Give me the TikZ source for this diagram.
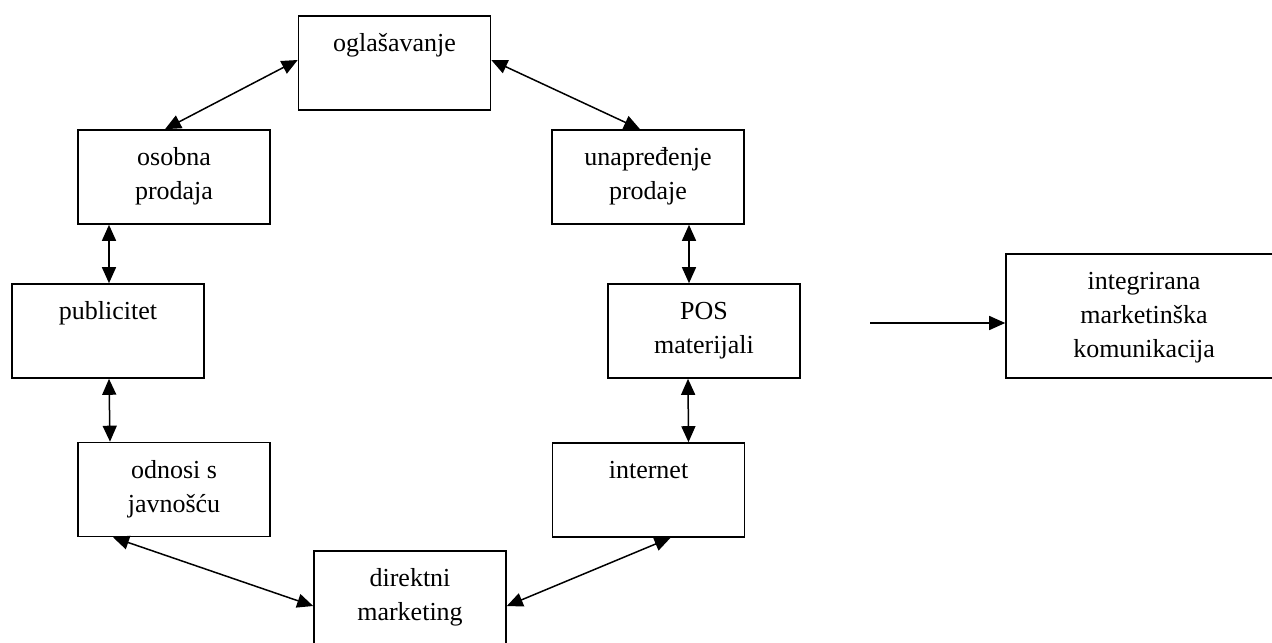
\documentclass[tikz,border=0pt]{standalone}
\usepackage{fontspec}
\setmainfont{Liberation Serif}
\usepackage{tikz}
\usetikzlibrary{arrows.meta}
\tikzstyle{block}   = [draw,rectangle,line width=0.8pt,inner sep=0pt,minimum width=96pt,minimum height=47pt]
\tikzstyle{caption} = [anchor=north,align=center,inner sep=0pt,yshift=-6.1pt]

\begin{document}
\begin{tikzpicture}[x=0.5pt,y=-0.5pt,<->,>={Triangle[length=8pt,width=7pt]},line width=0.75pt,
                    font=\fontsize{13}{17}\selectfont]

\useasboundingbox (0,0) rectangle (1272,642);
\clip (0,0) rectangle (1272,642);

\node[block] (ogl) at (394.5,63)  {};
\node[block] (osp) at (174,177)   {};
\node[block] (unp) at (648,177)   {};
\node[block] (pub) at (108,331)   {};
\node[block] (pos) at (704,331)   {};
\node[block] (ojv) at (174,489.5) {};
\node[block] (int) at (648.5,490) {};
\node[block] (dmk) at (410,598)   {};
\node[block,minimum width=138pt,minimum height=62pt] (imk) at (1144,316) {};

\node[caption] at (ogl.north) {\strut oglašavanje};
\node[caption] at (osp.north) {\strut osobna\\prodaja};
\node[caption] at (unp.north) {\strut unapređenje\\prodaje};
\node[caption] at (pub.north) {\strut publicitet};
\node[caption] at (pos.north) {\strut POS\\materijali};
\node[caption] at (ojv.north) {\strut odnosi s\\javnošću};
\node[caption] at (int.north) {\strut internet};
\node[caption] at (dmk.north) {\strut direktni\\marketing};
\node[caption] at (imk.north) {\strut integrirana\\marketinška\\komunikacija};

\coordinate (src) at (870,323);

\path
    ([xshift=-4.5pt]osp.north) edge ([yshift=1.5pt]ogl.west)
    ([yshift=1.5pt]ogl.east)   edge ([xshift=-4pt]unp.north)
    ([xshift=-32.5pt]osp.south) edge ([xshift=0.5pt]pub.north)
    ([xshift=0.5pt]pub.south)  edge ([xshift=-32pt]ojv.north)
    ([xshift=-30.5pt]ojv.south) edge ([yshift=-4pt]dmk.west)
    ([yshift=-4pt]dmk.east)    edge ([xshift=11pt]int.south)
    ([xshift=20.5pt]unp.south) edge ([xshift=-7.5pt]pos.north)
    ([xshift=-8pt]pos.south)   edge ([xshift=20pt]int.north)
    (src) edge[->] ([yshift=-3.5pt]imk.west);

\end{tikzpicture}
\end{document}
